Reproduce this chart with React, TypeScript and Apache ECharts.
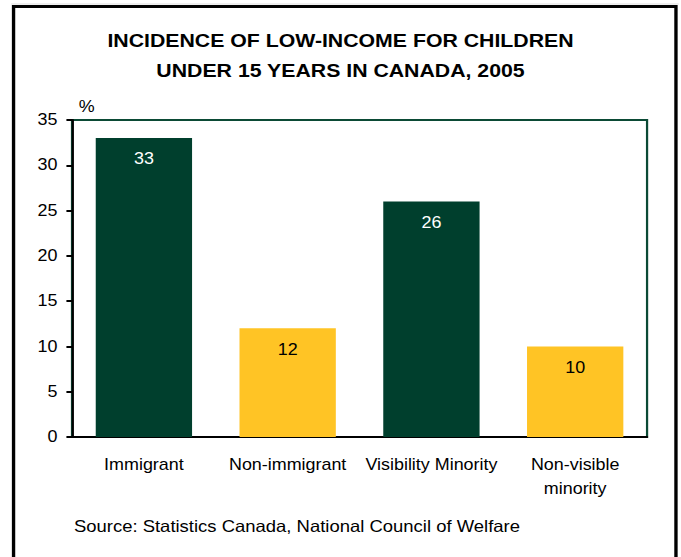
import React, { useEffect, useRef } from "react";
import * as echarts from "echarts";

const categories = ["Immigrant", "Non-immigrant", "Visibility Minority", "Non-visible\nminority"];
const values = [33, 12, 26, 10];
const barColors = ["#003F2D", "#FFC425", "#003F2D", "#FFC425"];
const labelColors = ["#FFFFFF", "#000000", "#FFFFFF", "#000000"];
const titleText = "INCIDENCE OF LOW-INCOME FOR CHILDREN\nUNDER 15 YEARS IN CANADA, 2005";
const sourceText = "Source: Statistics Canada, National Council of Welfare";

const FONT = "Arial, 'Liberation Sans', sans-serif";
const BASE_W = 608;
const SCALE_X = 681 / BASE_W;

export default function App() {
  const ref = useRef<HTMLDivElement>(null);
  useEffect(() => {
    if (!ref.current) return;
    const chart = echarts.init(ref.current, null, { renderer: "svg" });
    chart.setOption({
      animation: false,
      backgroundColor: "#FFFFFF",
      title: {
        text: titleText,
        left: "center",
        top: 25,
        padding: [0, 0, 0, 8],
        textStyle: {
          fontFamily: FONT,
          fontWeight: "bold",
          fontSize: 19,
          lineHeight: 30,
          color: "#000000",
        },
      },
      graphic: [
        {
          type: "line",
          shape: { x1: 10, y1: 4, x2: 606, y2: 4 },
          style: { stroke: "#DDDDDD", lineWidth: 1 },
          silent: true,
        },
        {
          type: "rect",
          shape: { x: 12.1, y: 6.5, width: 591.4, height: 600 },
          style: { fill: "none", stroke: "#000000", lineWidth: 3 },
          silent: true,
        },
        {
          type: "text",
          left: 66,
          top: 518,
          style: { text: sourceText, font: `16.5px ${FONT}`, fill: "#000000" },
        },
      ],
      grid: {
        left: 64.3,
        right: 30.3,
        top: 120,
        bottom: 120,
        show: true,
        borderColor: "#0B4A35",
        borderWidth: 2,
        backgroundColor: "transparent",
      },
      xAxis: {
        type: "category",
        data: categories,
        axisLine: { show: true, lineStyle: { color: "#000000", width: 2 } },
        axisTick: { show: false },
        axisLabel: {
          fontFamily: FONT,
          fontSize: 16,
          color: "#000000",
          margin: 16,
          lineHeight: 24,
          interval: 0,
        },
      },
      yAxis: {
        type: "value",
        min: 0,
        max: 35,
        interval: 5,
        name: "%",
        nameLocation: "end",
        nameGap: 5,
        nameTextStyle: {
          fontFamily: FONT,
          fontSize: 16,
          color: "#000000",
          align: "left",
          padding: [0, 0, 0, 6],
        },
        axisLine: { show: true, lineStyle: { color: "#000000", width: 2 } },
        axisTick: { show: true, length: 5, lineStyle: { color: "#000000", width: 2 } },
        splitLine: { show: false },
        axisLabel: {
          fontFamily: FONT,
          fontSize: 16,
          color: "#000000",
          margin: 13,
        },
      },
      series: [
        {
          type: "bar",
          barWidth: "67%",
          data: values.map((v, i) => ({
            value: v,
            itemStyle: { color: barColors[i] },
            label: { color: labelColors[i] },
          })),
          label: {
            show: true,
            position: "insideTop",
            distance: 13,
            fontFamily: FONT,
            fontSize: 16,
          },
        },
      ],
    });
    return () => chart.dispose();
  }, []);
  return (
    <div
      ref={ref}
      style={{
        position: "fixed",
        left: 0,
        top: 0,
        width: BASE_W,
        height: 557,
        transform: `scaleX(${SCALE_X})`,
        transformOrigin: "0 0",
      }}
    />
  );
}
